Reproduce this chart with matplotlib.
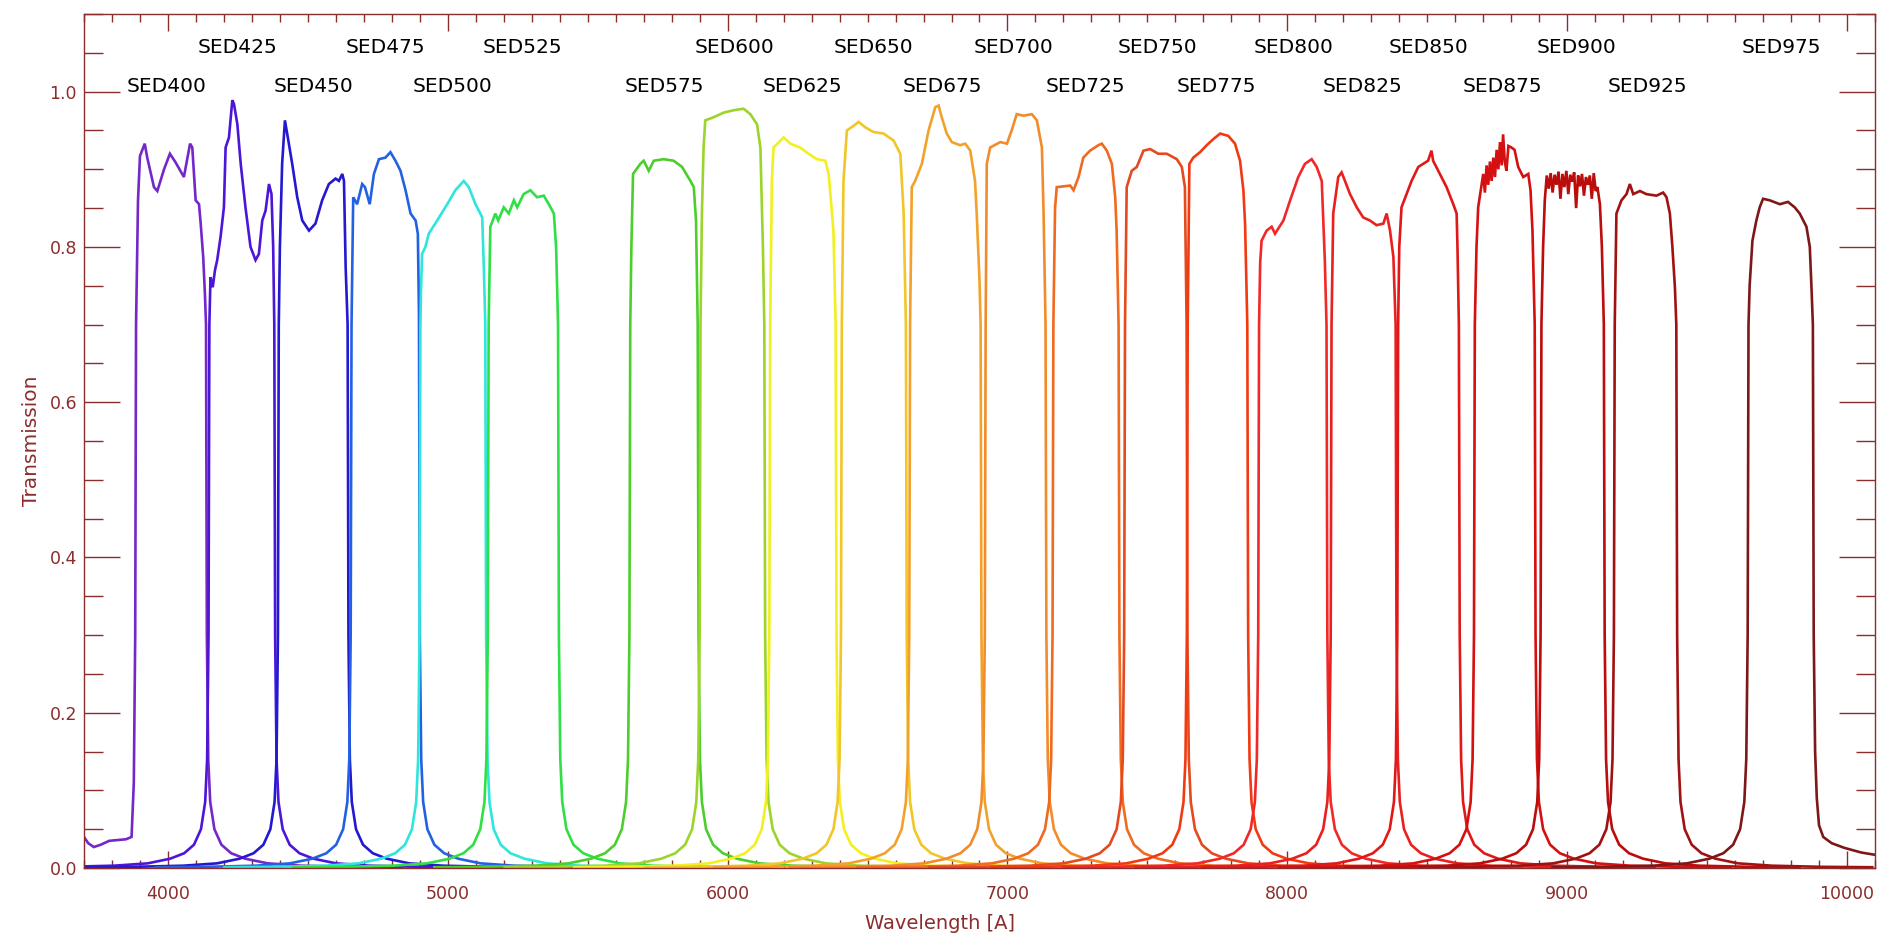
import matplotlib.pyplot as plt
from matplotlib.ticker import MultipleLocator

# Nombres de los filtros y posicion (longitud de onda central) de sus etiquetas
nombres = ['SED400', 'SED425', 'SED450', 'SED475', 'SED500', 'SED525', 'SED575',
           'SED600', 'SED625', 'SED650', 'SED675', 'SED700', 'SED725', 'SED750',
           'SED775', 'SED800', 'SED825', 'SED850', 'SED875', 'SED900', 'SED925',
           'SED975']
centros = [3994, 4247, 4519, 4777, 5017, 5268, 5774, 6025, 6269, 6520, 6769,
           7020, 7279, 7535, 7745, 8021, 8270, 8506, 8768, 9034, 9286, 9765]
colores = ['#7428c8', '#4c16d8', '#2418d0', '#2262e2', '#2ee6dc', '#2ee044',
           '#4cce2c', '#9cd42c', '#f2f020', '#f2c628', '#f2a22a', '#f28c2a',
           '#f06a20', '#e44a1e', '#f23a12', '#f02828', '#e82020', '#e01818',
           '#d41010', '#bc0c0c', '#a01212', '#7e1818']

# Banda de paso de cada filtro (longitud de onda [A], transmision)
sed400_wl = [3886, 3893, 3900, 3917, 3926, 3950, 3962, 3986, 4007, 4027, 4057, 4079, 4087, 4099, 4111, 4117, 4126, 4132, 4136]
sed400_tr = [0.70, 0.86, 0.917, 0.933, 0.915, 0.877, 0.872, 0.900, 0.920, 0.909, 0.890, 0.933, 0.928, 0.860, 0.855, 0.830, 0.787, 0.74, 0.70]
sed425_wl = [4148, 4152, 4160, 4168, 4176, 4188, 4200, 4206, 4218, 4230, 4236, 4248, 4260, 4277, 4295, 4313, 4325, 4337, 4349, 4361, 4370, 4376, 4380]
sed425_tr = [0.70, 0.761, 0.748, 0.770, 0.783, 0.813, 0.851, 0.928, 0.941, 0.989, 0.984, 0.958, 0.907, 0.851, 0.800, 0.783, 0.791, 0.834, 0.847, 0.881, 0.868, 0.80, 0.70]
sed450_wl = [4396, 4400, 4408, 4418, 4426, 4444, 4462, 4480, 4504, 4527, 4551, 4575, 4599, 4611, 4623, 4629, 4635, 4642]
sed450_tr = [0.70, 0.80, 0.907, 0.963, 0.946, 0.907, 0.864, 0.834, 0.821, 0.830, 0.860, 0.881, 0.888, 0.885, 0.894, 0.885, 0.774, 0.70]
sed475_wl = [4656, 4662, 4676, 4694, 4704, 4721, 4736, 4754, 4777, 4795, 4813, 4831, 4849, 4867, 4885, 4893, 4897]
sed475_tr = [0.70, 0.864, 0.855, 0.881, 0.877, 0.855, 0.894, 0.913, 0.915, 0.922, 0.911, 0.898, 0.873, 0.843, 0.834, 0.817, 0.714]
sed500_wl = [4902, 4904, 4908, 4920, 4932, 4962, 4998, 5027, 5057, 5075, 5099, 5123, 5129, 5134]
sed500_tr = [0.70, 0.740, 0.791, 0.800, 0.817, 0.834, 0.855, 0.873, 0.885, 0.877, 0.855, 0.838, 0.770, 0.70]
sed525_wl = [5146, 5152, 5170, 5180, 5200, 5218, 5236, 5248, 5271, 5295, 5319, 5343, 5361, 5379, 5387, 5394]
sed525_tr = [0.70, 0.826, 0.843, 0.834, 0.851, 0.843, 0.860, 0.851, 0.868, 0.873, 0.864, 0.866, 0.855, 0.843, 0.800, 0.70]
sed575_wl = [5652, 5656, 5662, 5688, 5700, 5718, 5736, 5771, 5807, 5837, 5867, 5879, 5887, 5893]
sed575_tr = [0.70, 0.80, 0.894, 0.907, 0.911, 0.898, 0.911, 0.913, 0.911, 0.903, 0.885, 0.877, 0.834, 0.70]
sed600_wl = [5903, 5908, 5914, 5920, 5950, 5986, 6021, 6057, 6081, 6105, 6117, 6126, 6131]
sed600_tr = [0.70, 0.843, 0.928, 0.963, 0.967, 0.973, 0.976, 0.978, 0.971, 0.958, 0.928, 0.800, 0.70]
sed625_wl = [6152, 6158, 6164, 6200, 6224, 6259, 6289, 6319, 6349, 6361, 6378, 6386]
sed625_tr = [0.70, 0.885, 0.928, 0.941, 0.933, 0.928, 0.920, 0.913, 0.911, 0.894, 0.821, 0.70]
sed650_wl = [6408, 6414, 6426, 6450, 6468, 6492, 6521, 6557, 6593, 6617, 6629, 6637]
sed650_tr = [0.70, 0.885, 0.950, 0.956, 0.961, 0.954, 0.948, 0.946, 0.937, 0.920, 0.843, 0.70]
sed675_wl = [6652, 6658, 6670, 6694, 6718, 6742, 6754, 6765, 6783, 6801, 6831, 6849, 6867, 6884, 6890, 6900, 6904]
sed675_tr = [0.70, 0.877, 0.885, 0.907, 0.950, 0.980, 0.982, 0.967, 0.946, 0.935, 0.931, 0.933, 0.924, 0.885, 0.843, 0.757, 0.70]
sed700_wl = [6922, 6926, 6938, 6974, 6998, 7015, 7033, 7057, 7087, 7105, 7123, 7129, 7136]
sed700_tr = [0.70, 0.907, 0.928, 0.935, 0.933, 0.950, 0.971, 0.969, 0.971, 0.963, 0.928, 0.843, 0.70]
sed725_wl = [7164, 7170, 7176, 7224, 7236, 7254, 7271, 7295, 7325, 7337, 7355, 7373, 7385, 7390, 7397]
sed725_tr = [0.70, 0.85, 0.877, 0.879, 0.873, 0.890, 0.915, 0.924, 0.931, 0.933, 0.924, 0.907, 0.864, 0.821, 0.70]
sed750_wl = [7420, 7426, 7444, 7462, 7486, 7510, 7539, 7569, 7605, 7623, 7634, 7640]
sed750_tr = [0.70, 0.877, 0.898, 0.903, 0.924, 0.926, 0.920, 0.920, 0.913, 0.903, 0.877, 0.70]
sed775_wl = [7644, 7650, 7664, 7688, 7712, 7736, 7760, 7789, 7813, 7831, 7843, 7849, 7857]
sed775_tr = [0.70, 0.907, 0.915, 0.922, 0.931, 0.939, 0.946, 0.943, 0.933, 0.911, 0.873, 0.830, 0.70]
sed800_wl = [7899, 7903, 7908, 7926, 7944, 7956, 7986, 8010, 8039, 8063, 8087, 8105, 8123, 8134, 8140]
sed800_tr = [0.70, 0.78, 0.808, 0.821, 0.826, 0.817, 0.834, 0.860, 0.890, 0.907, 0.913, 0.903, 0.885, 0.783, 0.70]
sed825_wl = [8158, 8164, 8182, 8194, 8206, 8224, 8248, 8271, 8295, 8319, 8343, 8355, 8367, 8379, 8387]
sed825_tr = [0.70, 0.843, 0.890, 0.896, 0.885, 0.868, 0.851, 0.838, 0.834, 0.828, 0.830, 0.843, 0.821, 0.787, 0.70]
sed850_wl = [8396, 8400, 8408, 8426, 8444, 8468, 8503, 8515, 8521, 8545, 8569, 8593, 8605, 8608, 8613]
sed850_tr = [0.70, 0.800, 0.851, 0.868, 0.885, 0.903, 0.911, 0.924, 0.911, 0.894, 0.877, 0.855, 0.843, 0.80, 0.70]
sed875_wl = [8670, 8676, 8682, 8700, 8706, 8712, 8718, 8724, 8730, 8736, 8742, 8748, 8754, 8760, 8766, 8771, 8777, 8783, 8790, 8801, 8812, 8825, 8843, 8861, 8869, 8876, 8884]
sed875_tr = [0.70, 0.80, 0.851, 0.894, 0.87, 0.905, 0.88, 0.91, 0.885, 0.915, 0.89, 0.925, 0.90, 0.935, 0.905, 0.945, 0.91, 0.898, 0.93, 0.928, 0.925, 0.903, 0.890, 0.894, 0.873, 0.821, 0.70]
sed900_wl = [8908, 8914, 8920, 8927, 8934, 8941, 8948, 8955, 8962, 8969, 8976, 8983, 8990, 8997, 9004, 9011, 9018, 9025, 9032, 9039, 9046, 9053, 9060, 9067, 9074, 9081, 9088, 9095, 9102, 9108, 9117, 9124, 9131]
sed900_tr = [0.70, 0.80, 0.860, 0.892, 0.875, 0.895, 0.870, 0.893, 0.880, 0.897, 0.862, 0.894, 0.877, 0.898, 0.868, 0.893, 0.884, 0.896, 0.850, 0.892, 0.878, 0.894, 0.866, 0.890, 0.880, 0.892, 0.862, 0.895, 0.872, 0.877, 0.855, 0.80, 0.70]
sed925_wl = [9170, 9176, 9194, 9212, 9224, 9236, 9260, 9283, 9319, 9343, 9355, 9367, 9376, 9385, 9390]
sed925_tr = [0.70, 0.843, 0.860, 0.868, 0.881, 0.868, 0.872, 0.868, 0.866, 0.870, 0.864, 0.843, 0.800, 0.748, 0.70]
sed975_wl = [9648, 9652, 9662, 9676, 9688, 9700, 9724, 9760, 9789, 9813, 9831, 9855, 9867, 9873, 9878]
sed975_tr = [0.70, 0.75, 0.808, 0.834, 0.851, 0.862, 0.860, 0.855, 0.858, 0.851, 0.843, 0.826, 0.800, 0.748, 0.70]

# Alas de los filtros: distancia al borde [A] y transmision
ala_off = [3, 8, 15, 30, 55, 90, 140, 220, 340, 520, 700]
ala_tr = [0.30, 0.14, 0.085, 0.05, 0.03, 0.019, 0.012, 0.006, 0.003, 0.0015, 0.001]
# Meseta a la izquierda de SED400 y a la derecha de SED975
sed400_izq_wl = [3600, 3700, 3715, 3735, 3760, 3790, 3820, 3850, 3870, 3878, 3883]
sed400_izq_tr = [0.040, 0.040, 0.032, 0.027, 0.030, 0.035, 0.036, 0.037, 0.040, 0.11, 0.30]
sed975_der_wl = [9881, 9886, 9892, 9900, 9915, 9945, 9990, 10050, 10100, 10200]
sed975_der_tr = [0.30, 0.15, 0.09, 0.055, 0.04, 0.032, 0.026, 0.020, 0.017, 0.017]

bandas = [(sed400_wl, sed400_tr), (sed425_wl, sed425_tr), (sed450_wl, sed450_tr),
          (sed475_wl, sed475_tr), (sed500_wl, sed500_tr), (sed525_wl, sed525_tr),
          (sed575_wl, sed575_tr), (sed600_wl, sed600_tr), (sed625_wl, sed625_tr),
          (sed650_wl, sed650_tr), (sed675_wl, sed675_tr), (sed700_wl, sed700_tr),
          (sed725_wl, sed725_tr), (sed750_wl, sed750_tr), (sed775_wl, sed775_tr),
          (sed800_wl, sed800_tr), (sed825_wl, sed825_tr), (sed850_wl, sed850_tr),
          (sed875_wl, sed875_tr), (sed900_wl, sed900_tr), (sed925_wl, sed925_tr),
          (sed975_wl, sed975_tr)]

rojo = '#8c2d2d'

fig = plt.figure(figsize=(18.83, 9.35), dpi=100)
ax = fig.add_axes([84 / 1883, 1 - 868 / 935, (1875 - 84) / 1883, (868 - 14) / 935])

for i, (wl, tr) in enumerate(bandas):
    if i == 0:
        x = list(sed400_izq_wl)
        y = list(sed400_izq_tr)
    else:
        x = [wl[0] - o for o in reversed(ala_off)]
        y = list(reversed(ala_tr))
    x += wl
    y += tr
    if i == len(bandas) - 1:
        x += sed975_der_wl
        y += sed975_der_tr
    else:
        x += [wl[-1] + o for o in ala_off]
        y += ala_tr
    ax.plot(x, y, color=colores[i], lw=1.9, solid_joinstyle='miter')

# Etiquetas de los filtros en dos filas alternadas
for i, (nom, c) in enumerate(zip(nombres, centros)):
    yy = 1.006 if i % 2 == 0 else 1.057
    ax.text(c, yy, nom, ha='center', va='center', fontsize=14.5, color='black')

ax.set_xlim(3700, 10100)
ax.set_ylim(0, 1.1)
ax.xaxis.set_major_locator(MultipleLocator(1000))
ax.xaxis.set_minor_locator(MultipleLocator(100))
ax.yaxis.set_major_locator(MultipleLocator(0.2))
ax.yaxis.set_minor_locator(MultipleLocator(0.05))
ax.yaxis.set_major_formatter(plt.FormatStrFormatter('%.1f'))

ax.tick_params(axis='both', which='both', direction='in', top=True, right=True,
               color=rojo, labelcolor=rojo, labelsize=12.5, width=1.0)
ax.tick_params(axis='x', which='major', length=12, pad=12)
ax.tick_params(axis='x', which='minor', length=6)
ax.tick_params(axis='y', which='major', length=26, pad=5)
ax.tick_params(axis='y', which='minor', length=14)
for s in ax.spines.values():
    s.set_color(rojo)
    s.set_linewidth(1.0)

ax.set_xlabel('Wavelength [A]', color=rojo, fontsize=14)
ax.xaxis.set_label_coords(0.478, -0.0535)
ax.set_ylabel('Transmission', color=rojo, fontsize=14.5, labelpad=6)

plt.savefig('out.png', dpi=100)
